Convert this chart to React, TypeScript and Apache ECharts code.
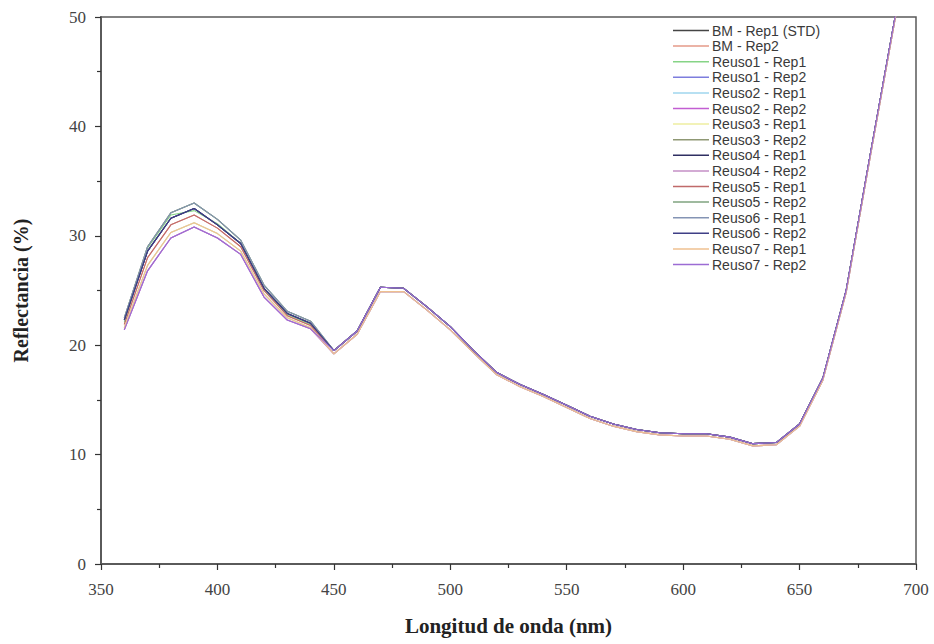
import React, { useEffect, useRef } from "react";
import * as echarts from "echarts";

const wavelengths = [360, 370, 380, 390, 400, 410, 420, 430, 440, 450, 460, 470, 480, 490, 500, 510, 520, 530, 540, 550, 560, 570, 580, 590, 600, 610, 620, 630, 640, 650, 660, 670, 680, 690, 700];

const seriesNames = [
  "BM - Rep1 (STD)", "BM - Rep2", "Reuso1 - Rep1", "Reuso1 - Rep2",
  "Reuso2 - Rep1", "Reuso2 - Rep2", "Reuso3 - Rep1", "Reuso3 - Rep2",
  "Reuso4 - Rep1", "Reuso4 - Rep2", "Reuso5 - Rep1", "Reuso5 - Rep2",
  "Reuso6 - Rep1", "Reuso6 - Rep2", "Reuso7 - Rep1", "Reuso7 - Rep2",
];

const seriesColors = [
  "#454545", "#e59a88", "#86d486", "#7d7ddd",
  "#9fd6ee", "#c25ed2", "#eeeea0", "#8f9874",
  "#2f2f62", "#c48fc6", "#c06a6a", "#7fa37f",
  "#8494b4", "#3f3f86", "#efc090", "#9c6cd4",
];

// 360..440 nm (the region where the replicates separate)
const headMain = [22.3, 28.6, 31.6, 32.5, 31.0, 29.3, 25.2, 22.9, 22.0];
const headHigh = [22.5, 29.0, 32.1, 33.0, 31.5, 29.6, 25.5, 23.1, 22.2];
const headGreen = [22.1, 28.9, 31.9, 32.3, 31.1, 29.3, 25.1, 22.8, 21.9];
const headMid = [21.9, 28.0, 31.0, 31.9, 30.7, 29.0, 25.0, 22.7, 21.8];
const headLowYellow = [21.6, 27.3, 30.3, 31.2, 30.2, 28.6, 24.7, 22.5, 21.6];
const headLowPink = [21.4, 26.8, 29.8, 30.8, 29.8, 28.3, 24.4, 22.3, 21.5];

// 450..700 nm
const tailMain = [19.5, 21.3, 25.3, 25.2, 23.5, 21.7, 19.5, 17.5, 16.4, 15.5, 14.5, 13.5, 12.8, 12.3, 12.0, 11.9, 11.9, 11.6, 11.0, 11.1, 12.8, 17.0, 25.0, 37.0, 48.8, 60.5];
const tailLow = [19.2, 21.0, 24.9, 24.9, 23.2, 21.4, 19.3, 17.3, 16.2, 15.3, 14.3, 13.3, 12.6, 12.1, 11.8, 11.7, 11.7, 11.4, 10.8, 10.9, 12.6, 16.8, 24.8, 36.8, 48.6, 60.3];

const seriesHeads = [
  headMain, headMid, headGreen, headMain,
  headLowYellow, headLowPink, headLowYellow, headHigh,
  headMain, headLowPink, headMid, headHigh,
  headHigh, headMain, headLowYellow, headLowPink,
];
const seriesTails = [
  tailMain, tailLow, tailMain, tailMain,
  tailLow, tailLow, tailLow, tailMain,
  tailMain, tailLow, tailMain, tailMain,
  tailMain, tailMain, tailLow, tailMain,
];

const xTicks = [350, 700, 50];
const yTicks = [0, 50, 10];

export default function App() {
  const ref = useRef<HTMLDivElement>(null);
  useEffect(() => {
    if (!ref.current) return;
    const chart = echarts.init(ref.current, undefined, { renderer: "svg" });
    const serif = "'Liberation Serif', 'DejaVu Serif', serif";
    const axisColor = "#5a5a5a";
    const series = seriesNames.map((name, i) => {
      const vals = seriesHeads[i].concat(seriesTails[i]);
      return {
        name,
        type: "line",
        data: wavelengths.map((w, k) => [w, vals[k]]),
        showSymbol: false,
        symbol: "none",
        lineStyle: { width: 1.1, color: seriesColors[i] },
        itemStyle: { color: seriesColors[i] },
        clip: true,
      };
    });
    chart.setOption({
      animation: false,
      backgroundColor: "#ffffff",
      grid: {
        left: 101,
        right: 18,
        top: 17,
        bottom: 80,
        show: true,
        borderColor: axisColor,
        borderWidth: 1.5,
        backgroundColor: "transparent",
      },
      legend: {
        orient: "vertical",
        left: 668,
        top: 18,
        icon: "rect",
        itemWidth: 36,
        itemHeight: 1.5,
        itemGap: 0.6,
        textStyle: {
          fontFamily: "'Liberation Sans', Arial, sans-serif",
          fontSize: 14,
          color: "#3a3a3a",
          lineHeight: 15,
          padding: [0, 0, 0, -2],
        },
        data: seriesNames,
      },
      xAxis: {
        type: "value",
        min: xTicks[0],
        max: xTicks[1],
        interval: xTicks[2],
        name: "Longitud de onda (nm)",
        nameLocation: "middle",
        nameGap: 51,
        nameTextStyle: { fontFamily: serif, fontWeight: "bold", fontSize: 21, color: "#222" },
        axisLine: { show: true, onZero: false, lineStyle: { color: axisColor, width: 2 } },
        axisTick: { show: true, inside: false, length: 6, lineStyle: { color: "#333", width: 1.2 } },
        minorTick: { show: true, splitNumber: 2, length: 4, lineStyle: { color: "#333", width: 1.2 } },
        axisLabel: { fontFamily: serif, fontSize: 17, color: "#444", margin: 17 },
        splitLine: { show: false },
      },
      yAxis: {
        type: "value",
        min: yTicks[0],
        max: yTicks[1],
        interval: yTicks[2],
        name: "Reflectancia (%)",
        nameLocation: "middle",
        nameGap: 70,
        nameTextStyle: { fontFamily: serif, fontWeight: "bold", fontSize: 20, color: "#222" },
        axisLine: { show: true, onZero: false, lineStyle: { color: axisColor, width: 2 } },
        axisTick: { show: true, inside: false, length: 6, lineStyle: { color: "#333", width: 1.2 } },
        minorTick: { show: true, splitNumber: 2, length: 4, lineStyle: { color: "#333", width: 1.2 } },
        axisLabel: { fontFamily: serif, fontSize: 17, color: "#444", margin: 15 },
        splitLine: { show: false },
      },
      series,
    });
    return () => chart.dispose();
  }, []);
  return (
    <div
      ref={ref}
      style={{ position: "fixed", left: 0, top: 0, width: 934, height: 644 }}
    />
  );
}
